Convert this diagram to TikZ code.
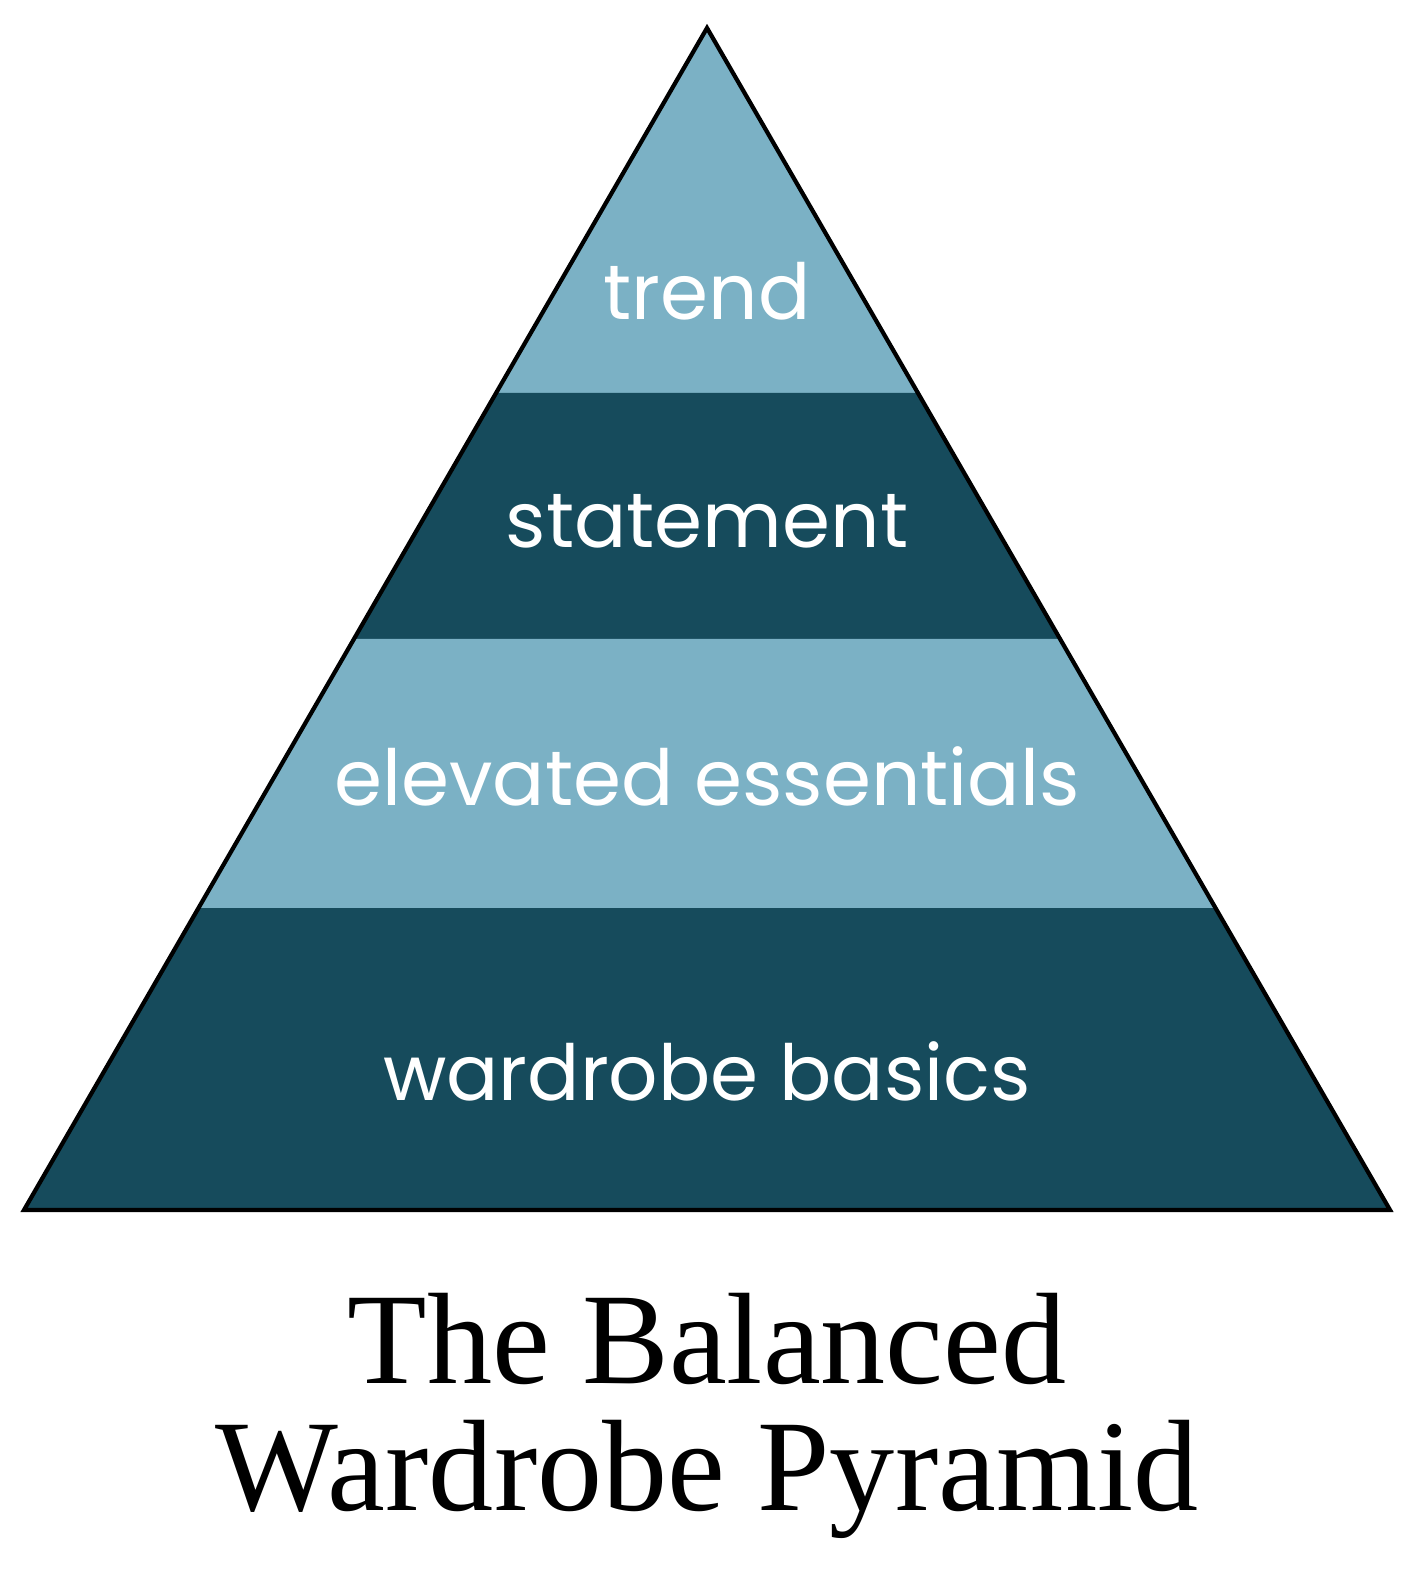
\documentclass[tikz,border=0pt]{standalone}
\usepackage{fontspec}
\setmainfont{Liberation Serif}
\newfontfamily\labelfont{Poppins}
\usetikzlibrary{positioning}
\definecolor{tierlight}{HTML}{7BB1C5}
\definecolor{tierdark}{HTML}{164B5C}
\tikzset{
    tier/.style={anchor=base, text=white, font=\labelfont\fontsize{22}{22}\selectfont},
    titleline/.style={anchor=base, font=\fontsize{37}{37}\selectfont}
}

\begin{document}
\begin{tikzpicture}[x=0.01cm, y=-0.01cm]
    \useasboundingbox (0,0) rectangle (1420,1574);
    % Corners
    \coordinate (apex) at (707,28);
    \coordinate (bl) at (24,1210);
    \coordinate (br) at (1390,1210);
    
    % Bands
    \fill[tierlight] (apex) -- (919,393) -- (495,393) -- cycle;
    \fill[tierdark] (495,393) -- (919,393) -- (1061,639) -- (353,639) -- cycle;
    \fill[tierlight] (353,639) -- (1061,639) -- (1216,908) -- (198,908) -- cycle;
    \fill[tierdark] (198,908) -- (1216,908) -- (br) -- (bl) -- cycle;
    \draw[line width=1.2pt, line join=miter] (apex) -- (br) -- (bl) -- cycle;
    
    % Labels
    \node[tier] (trend) at (707,320) {trend};
    \node[tier] (statement) at (707,548) {statement};
    \node[tier] (elevated) at (707,805) {elevated essentials};
    \node[tier] (basics) at (707,1100) {wardrobe basics};
    
    % Title
    \node[titleline] (title1) at (707,1383) {The Balanced};
    \node[titleline] (title2) at (707,1510) {Wardrobe Pyramid};
\end{tikzpicture}
\end{document}
